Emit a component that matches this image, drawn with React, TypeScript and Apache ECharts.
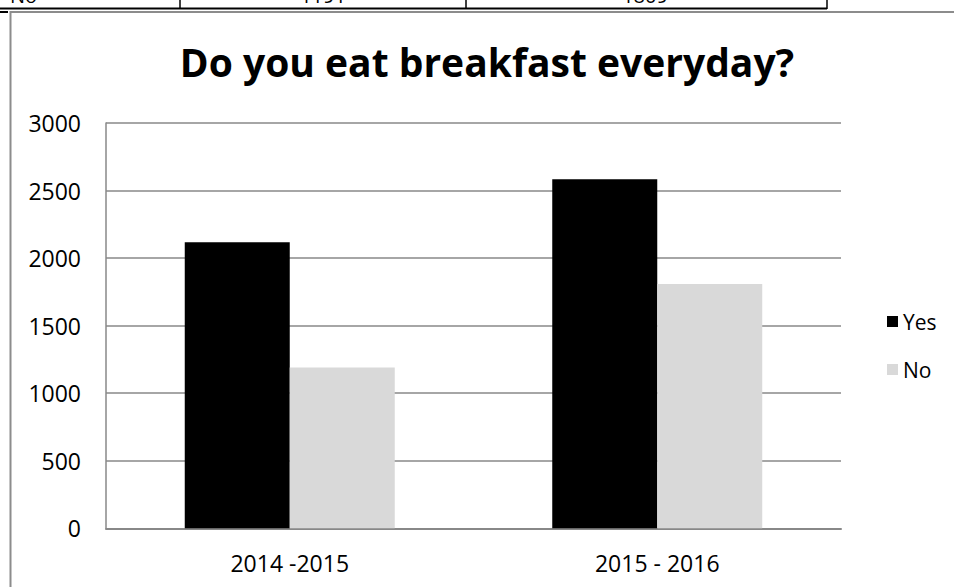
import React, { useEffect, useRef } from "react";
import * as echarts from "echarts";

const categories = ["2014 -2015", "2015 - 2016"];
const yesValues = [2118, 2584];
const noValues = [1191, 1809];
const seriesNames = ["Yes", "No"];
const tableRowLabel = "No";
const tableRowValues = ["1191", "1809"];
const titleText = "Do you eat breakfast everyday?";

const FONT = "'Open Sans', 'Noto Sans', sans-serif";

export default function App() {
  const ref = useRef<HTMLDivElement>(null);
  useEffect(() => {
    if (!ref.current) return;
    const chart = echarts.init(ref.current, null, { renderer: "svg" });
    chart.setOption({
      animation: false,
      backgroundColor: "#ffffff",
      title: {
        text: titleText,
        left: 482,
        top: 37,
        textAlign: "center",
        textStyle: { fontFamily: FONT, fontWeight: "bold", fontSize: 39, color: "#000" },
      },
      legend: {
        orient: "vertical",
        left: 882,
        top: 306,
        itemWidth: 11,
        itemHeight: 11,
        itemGap: 27,
        icon: "rect",
        data: seriesNames,
        textStyle: { fontFamily: FONT, fontSize: 21, lineHeight: 21, color: "#000", padding: [0, 0, 0, 0] },
      },
      grid: { left: 106, right: 113, top: 123, bottom: 58.7, containLabel: false },
      xAxis: {
        type: "category",
        data: categories,
        axisLine: { show: true, lineStyle: { color: "#888", width: 2 } },
        axisTick: { show: false },
        axisLabel: { fontFamily: FONT, fontSize: 23, color: "#000", margin: 23 },
      },
      yAxis: {
        type: "value",
        min: 0,
        max: 3000,
        interval: 500,
        axisLine: { show: true, lineStyle: { color: "#888", width: 1.5 } },
        axisTick: { show: false },
        splitLine: { show: true, lineStyle: { color: "#888", width: 1.5 } },
        axisLabel: {
          fontFamily: FONT,
          fontSize: 23,
          color: "#000",
          margin: 25,
          formatter: (v: number) => String(v),
        },
      },
      series: [
        {
          name: seriesNames[0],
          type: "bar",
          data: yesValues,
          barWidth: 105,
          barGap: "0%",
          itemStyle: { color: "#000000" },
        },
        {
          name: seriesNames[1],
          type: "bar",
          data: noValues,
          barWidth: 105,
          barGap: "0%",
          itemStyle: { color: "#d9d9d9" },
        },
      ],
      graphic: [
        // table fragment at top (cut off by the page edge, as in the reference)
        {
          type: "text",
          x: 10,
          y: 5,
          style: { text: tableRowLabel, fontFamily: FONT, fontSize: 20, fill: "#000", textVerticalAlign: "bottom" },
        },
        {
          type: "text",
          x: 323,
          y: 5,
          style: { text: tableRowValues[0], fontFamily: FONT, fontSize: 20, fill: "#000", textAlign: "center", textVerticalAlign: "bottom" },
        },
        {
          type: "text",
          x: 645,
          y: 5,
          style: { text: tableRowValues[1], fontFamily: FONT, fontSize: 20, fill: "#000", textAlign: "center", textVerticalAlign: "bottom" },
        },
        { type: "rect", shape: { x: 0, y: 3, width: 954, height: 5 }, style: { fill: "#fff" }, z: 1 },
        { type: "line", shape: { x1: 0, y1: 8.5, x2: 827, y2: 8.5 }, style: { stroke: "#000", lineWidth: 2 }, z: 2 },
        { type: "line", shape: { x1: 180, y1: 0, x2: 180, y2: 9 }, style: { stroke: "#000", lineWidth: 1.5 }, z: 2 },
        { type: "line", shape: { x1: 466, y1: 0, x2: 466, y2: 9 }, style: { stroke: "#000", lineWidth: 1.5 }, z: 2 },
        { type: "line", shape: { x1: 827, y1: 0, x2: 827, y2: 9 }, style: { stroke: "#000", lineWidth: 1.5 }, z: 2 },
        { type: "line", shape: { x1: 0, y1: 12, x2: 8, y2: 12 }, style: { stroke: "#000", lineWidth: 2 }, z: 2 },
        // chart frame
        {
          type: "polyline",
          shape: { points: [[10.5, 600], [10.5, 12], [960, 12]] },
          style: { stroke: "#8c8c8c", lineWidth: 2, fill: "none" },
          z: 2,
        },
      ],
    });
    return () => chart.dispose();
  }, []);
  return (
    <div
      ref={ref}
      style={{ position: "fixed", left: 0, top: 0, width: 954, height: 587, background: "#fff" }}
    />
  );
}
